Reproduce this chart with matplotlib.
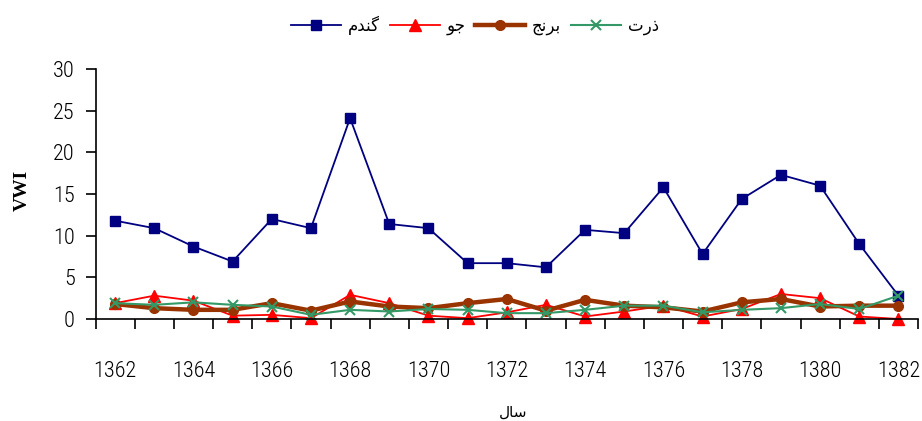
import matplotlib
matplotlib.use('Agg')
import matplotlib.pyplot as plt
from matplotlib import font_manager

years = [1362, 1363, 1364, 1365, 1366, 1367, 1368, 1369, 1370, 1371, 1372,
         1373, 1374, 1375, 1376, 1377, 1378, 1379, 1380, 1381, 1382]
wheat = [11.8, 10.9, 8.7, 6.9, 12.0, 10.9, 24.1, 11.4, 10.9, 6.7, 6.7,
         6.2, 10.7, 10.3, 15.8, 7.8, 14.4, 17.3, 16.0, 9.0, 2.8]
barley = [1.9, 2.8, 2.2, 0.4, 0.5, 0.1, 2.9, 1.9, 0.4, 0.1, 0.8,
          1.7, 0.3, 0.9, 1.6, 0.3, 1.2, 3.0, 2.5, 0.3, 0.0]
rice = [1.8, 1.3, 1.1, 1.1, 1.9, 1.0, 2.1, 1.5, 1.3, 1.9, 2.4,
        1.0, 2.3, 1.6, 1.4, 0.9, 2.0, 2.4, 1.5, 1.6, 1.6]
corn = [1.9, 1.7, 2.0, 1.7, 1.5, 0.5, 1.1, 0.9, 1.2, 1.1, 0.7,
        0.7, 1.1, 1.6, 1.6, 0.8, 1.1, 1.3, 1.8, 1.2, 2.8]

# Persian labels, pre-shaped (presentation forms, visual order) since matplotlib has no bidi
lbl_wheat = '\uFEE1\uFEAA\uFEE8\uFB94'   # گندم
lbl_barley = '\uFEEE\uFE9F'              # جو
lbl_rice = '\uFE9E\uFEE7\uFEAE\uFE91'    # برنج
lbl_corn = '\uFE95\uFEAD\uFEAB'          # ذرت
lbl_x = '\uFEDD\uFE8E\uFEB3'             # سال

# narrow font for the numbers, whatever is there
names = {f.name for f in font_manager.fontManager.ttflist}
num_font = 'DejaVu Sans'
for cand in ['Arial Narrow', 'Liberation Sans Narrow', 'Roboto Condensed', 'Archivo Narrow',
             'PT Sans Narrow', 'Fira Sans Condensed', 'Encode Sans Condensed',
             'IBM Plex Sans Condensed', 'Barlow Semi Condensed', 'Roboto']:
    if cand in names:
        num_font = cand
        break
serif_font = 'Times New Roman' if 'Times New Roman' in names else 'Liberation Serif'

fig = plt.figure(figsize=(9.22, 4.21), dpi=100)
ax = fig.add_axes([95.5 / 922, 1 - 319 / 421, (918 - 95.5) / 922, 250 / 421])

x = list(range(len(years)))
ax.plot(x, wheat, color='#000080', lw=1.3, marker='s', ms=7, label=lbl_wheat, clip_on=False)
ax.plot(x, barley, color='#FF0000', lw=1.3, marker='^', ms=8, label=lbl_barley, clip_on=False)
ax.plot(x, rice, color='#993300', lw=3.2, marker='o', ms=7, label=lbl_rice, clip_on=False)
ax.plot(x, corn, color='#339966', lw=1.5, marker='x', ms=7.5, mew=1.5, label=lbl_corn, clip_on=False)

ax.set_xlim(-0.5, len(years) - 0.5)
ax.set_ylim(0, 30)
ax.set_yticks([0, 5, 10, 15, 20, 25, 30])
ax.tick_params(axis='y', direction='out', length=7, width=1.2, pad=8)
ax.set_yticklabels([str(v) for v in [0, 5, 10, 15, 20, 25, 30]],
                   fontfamily=num_font, fontsize=16, fontweight='light')

# ticks at category boundaries, labels on every other category centre
ax.set_xticks([i - 0.5 for i in range(len(years) + 1)])
ax.set_xticklabels([])
ax.tick_params(axis='x', which='major', direction='out', length=7, width=1.2)
ax.set_xticks(x[::2], minor=True)
ax.set_xticklabels([str(y) for y in years[::2]], minor=True, fontfamily=num_font,
                   fontsize=16, fontweight='light')
ax.tick_params(axis='x', which='minor', length=0, pad=30)

for s in ['top', 'right']:
    ax.spines[s].set_visible(False)
for s in ['left', 'bottom']:
    ax.spines[s].set_linewidth(1.2)

fig.text(22 / 922, 1 - 190 / 421, 'VWI', rotation=90, ha='center', va='center',
         fontfamily=serif_font, fontweight='bold', fontsize=14)
fig.text(513 / 922, 1 - 412 / 421, lbl_x, ha='center', va='center',
         fontfamily='DejaVu Sans', fontsize=11)

ax.legend(loc='center', bbox_to_anchor=(0.515, 0.94), bbox_transform=fig.transFigure,
          ncol=4, frameon=False, prop={'family': 'DejaVu Sans', 'size': 12},
          handlelength=3.0, handletextpad=0.4, columnspacing=0.6)

fig.savefig('out.png', dpi=100)
